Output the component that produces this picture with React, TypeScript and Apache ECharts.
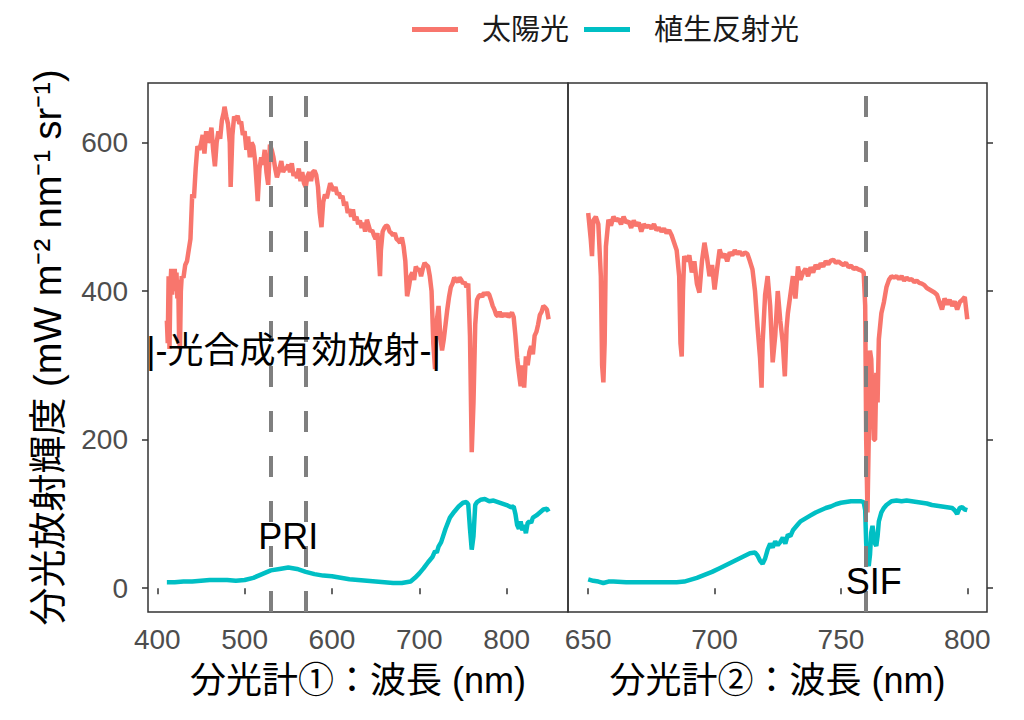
import React, { useEffect, useRef } from "react";
import * as echarts from "echarts";

const FONT = '"Liberation Sans", "Noto Sans CJK JP", sans-serif';

const legendNames = ["太陽光", "植生反射光"];
const seriesColors = ["#F8766D", "#00BFC4"];

const leftTicks = [400, 500, 600, 700, 800];
const rightTicks = [650, 700, 750, 800];
const yTicks = [0, 200, 400, 600];

const leftTitle = "分光計①：波長 (nm)";
const rightTitle = "分光計②：波長 (nm)";
const yTitle = "分光放射輝度 (mW m⁻² nm⁻¹ sr⁻¹)";

const leftVlines = [530, 570];
const rightVlines = [760];

const leftNotes = [
  { text: "|-光合成有効放射-|", x: 556, y: 320 },
  { text: "PRI", x: 550, y: 70 },
];
const rightNotes = [{ text: "SIF", x: 763, y: 9 }];

// Left panel: sunlight
const leftSunNm = [
  411, 412, 413, 414, 415, 416, 417, 418, 419, 420, 421, 422, 423, 424, 425, 426, 427, 428, 430, 432,
  434, 436, 438, 440, 442, 444, 446, 448, 450, 452, 454, 456, 458, 460, 462, 464, 466, 468, 470, 472,
  474, 476, 477, 479, 481, 483, 484, 486, 488, 490, 492, 494, 496, 498, 500, 502, 504, 506, 508, 510,
  512, 514, 515, 517, 519, 521, 523, 525, 527, 529, 531, 533, 535, 537, 540, 542, 544, 546, 548, 550,
  552, 554, 556, 558, 560, 562, 564, 566, 568, 570, 572, 574, 576, 578, 580, 582, 584, 586, 588, 590,
  592, 594, 596, 598, 600, 602, 604, 606, 608, 610, 612, 614, 616, 618, 620, 622, 624, 626, 628, 630,
  632, 634, 636, 638, 640, 642, 644, 646, 648, 650, 652, 654, 655, 656, 658, 660, 662, 664, 666, 668,
  670, 672, 674, 676, 678, 680, 682, 684, 686, 688, 690, 692, 694, 696, 698, 700, 702, 704, 706, 708,
  710, 712, 714, 716, 718, 720, 722, 724, 726, 728, 730, 732, 734, 736, 738, 740, 742, 744, 746, 748,
  750, 752, 754, 756, 758, 760, 762, 764, 766, 768, 770, 772, 774, 776, 778, 780, 782, 784, 786, 788,
  790, 792, 794, 796, 798, 800, 802, 804, 806, 808, 810, 812, 814, 816, 818, 820, 822, 824, 826, 828,
  830, 832, 834, 836, 838, 840, 842, 844, 846, 848,
];
const leftSun = [
  360, 330, 420, 322, 405, 430, 395, 425, 400, 430, 405, 425, 390, 415, 335, 322, 400, 420, 418, 435,
  440, 455, 470, 530, 525, 565, 595, 590, 598, 610, 585, 615, 600, 605, 620, 590, 568, 600, 615, 605,
  630, 640, 648, 635, 625, 600, 540, 610, 635, 630, 636, 625, 628, 610, 615, 590, 608, 580, 600, 595,
  575, 540, 521, 565, 580, 570, 590, 560, 543, 597, 590, 580, 565, 553, 565, 575, 560, 565, 565, 570,
  560, 572, 555, 560, 552, 565, 548, 560, 545, 540, 555, 560, 548, 560, 562, 556, 540, 505, 486, 520,
  530, 525, 535, 545, 540, 535, 540, 530, 532, 525, 528, 515, 520, 505, 510, 500, 510, 495, 500, 490,
  495, 485, 492, 480, 496, 488, 480, 482, 475, 470, 478, 440, 420, 455, 480, 485, 488, 487, 480, 478,
  475, 478, 470, 468, 465, 472, 460, 440, 393, 405, 420, 425, 415, 433, 428, 430, 420, 430, 438, 435,
  433, 420, 400, 330, 295, 360, 380, 340, 320, 335, 355, 375, 392, 405, 410, 418, 415, 412, 418, 415,
  410, 412, 405, 410, 340, 183, 250, 355, 388, 393, 395, 392, 398, 395, 398, 395, 388, 380, 375, 368,
  366, 372, 365, 370, 366, 370, 365, 368, 371, 365, 340, 310, 290, 272, 300, 270, 312, 300, 318, 326,
  315, 340, 345, 355, 368, 372, 380, 378, 375, 362,
];

// Left panel: vegetation reflected light
const leftVegNm = [
  411, 420, 430, 440, 450, 460, 470, 480, 490, 500, 510, 520, 530, 540, 550, 560, 570, 580, 590, 600,
  610, 620, 630, 640, 650, 660, 670, 680, 690, 695, 700, 705, 710, 715, 718, 720, 722, 725, 730, 735,
  740, 745, 750, 754, 756, 758, 760, 762, 764, 766, 770, 775, 780, 785, 790, 795, 800, 805, 808, 810,
  812, 814, 816, 818, 820, 822, 824, 826, 828, 830, 834, 838, 842, 846, 848,
];
const leftVeg = [
  8, 8, 9, 9, 10, 11, 11, 11, 10, 11, 14, 19, 24, 26, 28, 26, 22, 19, 17, 16,
  14, 12, 11, 10, 9, 8, 7, 7, 9, 14, 20, 27, 35, 42, 50, 48, 56, 62, 80, 95,
  103, 110, 115, 116, 113, 80, 52, 70, 112, 116, 119, 120, 117, 118, 116, 114, 112, 109, 110, 100,
  85, 80, 90, 78, 85, 74, 88, 90, 88, 95, 98, 102, 106, 107, 103,
];

// Right panel: sunlight
const rightSunNm = [
  650, 651, 651.5, 652, 653, 654, 655, 655.5, 656, 656.5, 657, 658, 659, 660, 661, 662, 663, 664, 665, 666,
  667, 668, 669, 670, 671, 672, 673, 674, 675, 676, 677, 678, 679, 680, 681, 682, 683, 684, 685, 686,
  686.5, 687, 687.5, 688, 689, 690, 691, 692, 693, 694, 695, 696, 697, 698, 699, 700, 701, 702, 703, 704,
  705, 706, 707, 708, 709, 710, 711, 712, 713, 714, 715, 716, 717, 718, 718.6, 719, 720, 721, 722, 723,
  724, 725, 726, 727, 727.8, 728.5, 729, 730, 731, 732, 733, 734, 735, 736, 737, 738, 739, 740, 741, 742,
  743, 744, 745, 746, 747, 748, 749, 750, 751, 752, 753, 754, 755, 756, 757, 758, 759, 759.6, 760, 760.5,
  761, 761.5, 762, 762.5, 763, 763.5, 764, 764.5, 765, 766, 767, 768, 769, 770, 771, 772, 773, 774, 775, 776,
  777, 778, 779, 780, 781, 782, 783, 784, 785, 786, 787, 788, 789, 790, 791, 792, 793, 794, 795, 796,
  797, 798, 799, 800,
];
const rightSun = [
  505, 470, 447, 495, 500, 490, 420, 300, 277, 330, 460, 496, 488, 500, 495, 497, 490, 500, 492, 494,
  485, 495, 488, 492, 480, 490, 486, 488, 484, 490, 482, 485, 480, 484, 478, 482, 475, 465, 455, 420,
  330, 312, 400, 447, 440, 448, 425, 440, 410, 398, 440, 465, 445, 420, 435, 402, 430, 456, 445, 450,
  440, 452, 448, 455, 450, 453, 448, 452, 450, 440, 429, 400, 352, 310, 270, 330, 395, 420, 380, 304,
  340, 400, 360, 330, 285, 350, 370, 395, 420, 390, 433, 415, 425, 430, 420, 432, 425, 435, 430, 437,
  433, 440, 436, 441, 442, 438, 440, 437, 435, 438, 432, 434, 430, 431, 429, 428, 425, 380, 200, 102,
  200, 320, 308, 250, 200, 200, 290, 250, 335, 370, 385, 405, 415, 420, 418, 420, 416, 420, 414, 418,
  415, 416, 412, 414, 411, 410, 408, 404, 402, 400, 398, 395, 385, 375, 390, 382, 388, 380, 386, 375,
  385, 388, 392, 362,
];

// Right panel: vegetation reflected light
const rightVegNm = [
  650, 652, 654, 656, 658, 660, 665, 670, 675, 680, 685, 688, 690, 693, 696, 699, 702, 705, 708, 711,
  714, 716, 717, 718, 719, 720, 721, 722, 723, 724, 725, 726, 727, 728, 729, 730, 731, 732, 733, 734,
  736, 738, 740, 742, 744, 746, 748, 750, 752, 754, 756, 758, 759, 759.6, 760, 760.5, 761, 761.5, 762, 762.5,
  763, 763.5, 764, 764.5, 765, 766, 767, 768, 770, 772, 774, 776, 778, 780, 782, 784, 786, 788, 790, 792,
  794, 795, 796, 797, 798, 799, 800,
];
const rightVeg = [
  12, 10, 9, 7, 9, 9, 8, 8, 8, 8, 8, 9, 11, 14, 18, 22, 27, 32, 37, 42,
  47, 48, 44, 37, 33, 40, 52, 60, 55, 63, 58, 62, 68, 60, 72, 70, 78, 82, 86, 90,
  94, 98, 102, 105, 108, 110, 113, 115, 116, 117, 117, 117, 116, 105, 60, 35, 30, 45, 75, 84,
  70, 60, 57, 70, 90, 102, 108, 112, 117, 118, 117, 118, 117, 116, 115, 114, 112, 111, 110, 109,
  108, 105, 100, 108, 109, 106, 105,
];

const zip = (xs: number[], ys: number[]) => xs.map((x, i) => [x, ys[i]]);

function xAxisCfg(grid: number, min: number, max: number, ticks: number[], title: string) {
  return {
    type: "value",
    gridIndex: grid,
    min,
    max,
    axisLine: { show: false },
    splitLine: { show: false },
    axisTick: { show: true, length: 6, lineStyle: { color: "#333333", width: 1.5 }, customValues: ticks },
    axisLabel: {
      customValues: ticks,
      fontSize: 28,
      color: "#4D4D4D",
      margin: 13,
      fontFamily: FONT,
      formatter: (v: number) => String(Math.round(v)),
    },
    name: title,
    nameLocation: "middle",
    nameGap: 50,
    nameTextStyle: { fontSize: 36, color: "#000000", fontFamily: FONT },
  };
}

function yAxisCfg(grid: number, right: boolean) {
  return {
    type: "value",
    gridIndex: grid,
    min: -32,
    max: 680,
    position: right ? "right" : "left",
    axisLine: { show: false },
    splitLine: { show: false },
    axisTick: { show: true, length: 6, lineStyle: { color: "#333333", width: 1.5 }, customValues: yTicks },
    axisLabel: {
      show: !right,
      customValues: yTicks,
      fontSize: 28,
      color: "#4D4D4D",
      margin: 20,
      fontFamily: FONT,
      formatter: (v: number) => String(Math.round(v)),
    },
    name: right ? "" : yTitle,
    nameLocation: "middle",
    nameRotate: 90,
    nameGap: 81,
    nameTextStyle: { fontSize: 38, color: "#000000", fontFamily: FONT },
  };
}

function lineSeries(name: string, color: string, grid: number, data: number[][]) {
  return {
    name,
    type: "line",
    xAxisIndex: grid,
    yAxisIndex: grid,
    data,
    symbol: "none",
    showSymbol: false,
    lineStyle: { color, width: 4.5 },
    itemStyle: { color },
    z: 2,
  };
}

function vlineSeries(grid: number, xs: number[]) {
  return {
    type: "line",
    xAxisIndex: grid,
    yAxisIndex: grid,
    data: [],
    z: 3,
    markLine: {
      silent: true,
      animation: false,
      symbol: ["none", "none"],
      label: { show: false },
      lineStyle: { color: "#7F7F7F", width: 4, type: [21, 24] },
      data: xs.map((v) => ({ xAxis: v })),
    },
  };
}

function noteSeries(grid: number, notes: { text: string; x: number; y: number }[]) {
  return {
    type: "scatter",
    xAxisIndex: grid,
    yAxisIndex: grid,
    symbolSize: 0,
    silent: true,
    z: 5,
    itemStyle: { color: "#000000", opacity: 1 },
    data: notes.map((n) => ({ name: n.text, value: [n.x, n.y] })),
    label: {
      show: true,
      position: "inside",
      formatter: "{b}",
      fontSize: 36,
      color: "#000000",
      opacity: 1,
      textBorderWidth: 0,
      textShadowBlur: 0,
      fontFamily: FONT,
    },
  };
}

export default function App() {
  const ref = useRef<HTMLDivElement>(null);
  useEffect(() => {
    if (!ref.current) return;
    const chart = echarts.init(ref.current, null, { renderer: "svg" });
    chart.setOption({
      animation: false,
      backgroundColor: "#ffffff",
      textStyle: { fontFamily: FONT },
      legend: {
        left: 407,
        top: 10,
        icon: "rect",
        itemWidth: 46,
        itemHeight: 5,
        itemGap: 15,
        data: legendNames,
        textStyle: { fontSize: 29, color: "#1A1A1A", fontFamily: FONT, padding: [0, 0, 0, 19] },
      },
      grid: [
        { left: 148, top: 83, width: 420, height: 529, show: true, borderColor: "#333333", borderWidth: 1.5, backgroundColor: "transparent" },
        { left: 568, top: 83, width: 419, height: 529, show: true, borderColor: "#333333", borderWidth: 1.5, backgroundColor: "transparent" },
      ],
      xAxis: [
        xAxisCfg(0, 389.4, 870.2, leftTicks, leftTitle),
        xAxisCfg(1, 642, 807.8, rightTicks, rightTitle),
      ],
      yAxis: [yAxisCfg(0, false), yAxisCfg(1, true)],
      series: [
        lineSeries(legendNames[0], seriesColors[0], 0, zip(leftSunNm, leftSun)),
        lineSeries(legendNames[1], seriesColors[1], 0, zip(leftVegNm, leftVeg)),
        lineSeries(legendNames[0], seriesColors[0], 1, zip(rightSunNm, rightSun)),
        lineSeries(legendNames[1], seriesColors[1], 1, zip(rightVegNm, rightVeg)),
        vlineSeries(0, leftVlines),
        vlineSeries(1, rightVlines),
        noteSeries(0, leftNotes),
        noteSeries(1, rightNotes),
      ],
    });
    return () => chart.dispose();
  }, []);
  return (
    <div
      ref={ref}
      style={{ position: "fixed", left: 0, top: 0, width: 1024, height: 720, background: "#ffffff" }}
    />
  );
}
